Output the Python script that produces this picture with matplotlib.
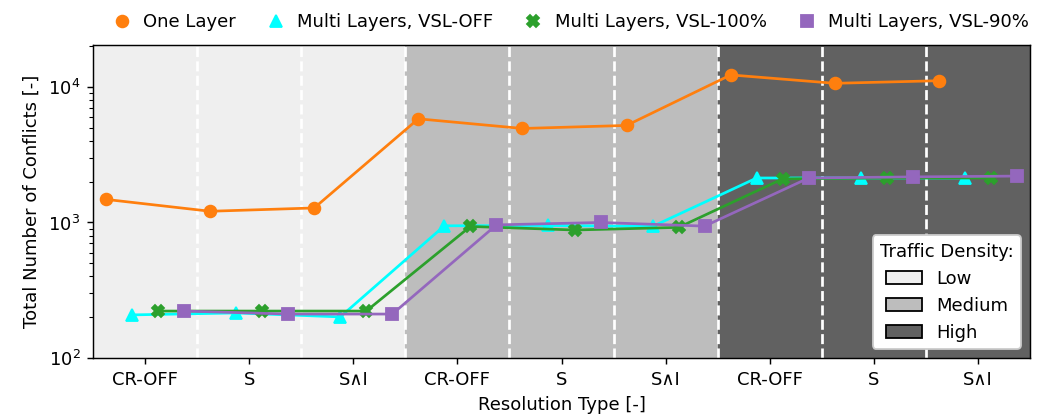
import matplotlib
matplotlib.use("Agg")
import matplotlib.pyplot as plt
import numpy as np
from matplotlib.patches import Patch
from matplotlib.lines import Line2D

categories = ["CR-OFF", "S", "S\u2227I"] * 3
densities = ["Low", "Medium", "High"]
density_colors = ["#efefef", "#bdbdbd", "#616161"]

one_layer = [1480, 1210, 1280, 5820, 4940, 5200, 12270, 10640, 11120]
vsl_off = [208, 215, 201, 945, 950, 935, 2130, 2130, 2130]
vsl_100 = [222, 222, 222, 935, 880, 920, 2100, 2130, 2130]
vsl_90 = [222, 211, 211, 960, 1000, 940, 2130, 2170, 2200]

series = [
    ("One Layer", one_layer, "tab:orange", "o", -0.375),
    ("Multi Layers, VSL-OFF", vsl_off, "#00ffff", "^", -0.125),
    ("Multi Layers, VSL-100%", vsl_100, "tab:green", "X", 0.125),
    ("Multi Layers, VSL-90%", vsl_90, "tab:purple", "s", 0.375),
]

dpi = 130
fig = plt.figure(figsize=(1046 / dpi, 417 / dpi), dpi=dpi)
ax = fig.add_axes([93 / 1046, 1 - 358 / 417, (1030 - 93) / 1046, (358 - 45) / 417])

x = np.arange(len(categories))
for g in range(3):
    ax.axvspan(3 * g - 0.5, 3 * g + 2.5, color=density_colors[g], zorder=0, lw=0)
for b in np.arange(0.5, len(categories) - 1, 1.0):
    ax.axvline(b, color="white", ls="--", lw=1.5, zorder=1)

handles = []
for name, vals, col, mk, off in series:
    ax.plot(x + off, vals, color=col, marker=mk, markersize=6.5, lw=1.5, zorder=3)
    handles.append(Line2D([], [], color=col, marker=mk, markersize=6.5, ls="none", label=name))

ax.set_yscale("log")
ax.set_ylim(100, 20400)
ax.set_xlim(-0.5, len(categories) - 0.5)
ax.set_xticks(x)
ax.set_xticklabels(categories)
ax.set_xlabel("Resolution Type [-]")
ax.set_ylabel("Total Number of Conflicts [-]")

leg1 = ax.legend(handles=handles, loc="lower center", bbox_to_anchor=(0.51, 1.0),
                 ncol=4, frameon=False, handlelength=1.0, handletextpad=0.7,
                 columnspacing=1.7, borderaxespad=0.35)
ax.add_artist(leg1)
patches = [Patch(facecolor=c, edgecolor="black", label=d) for d, c in zip(densities, density_colors)]
ax.legend(handles=patches, title="Traffic Density:", loc="lower right", framealpha=1)

fig.savefig("out.png", dpi=dpi)
